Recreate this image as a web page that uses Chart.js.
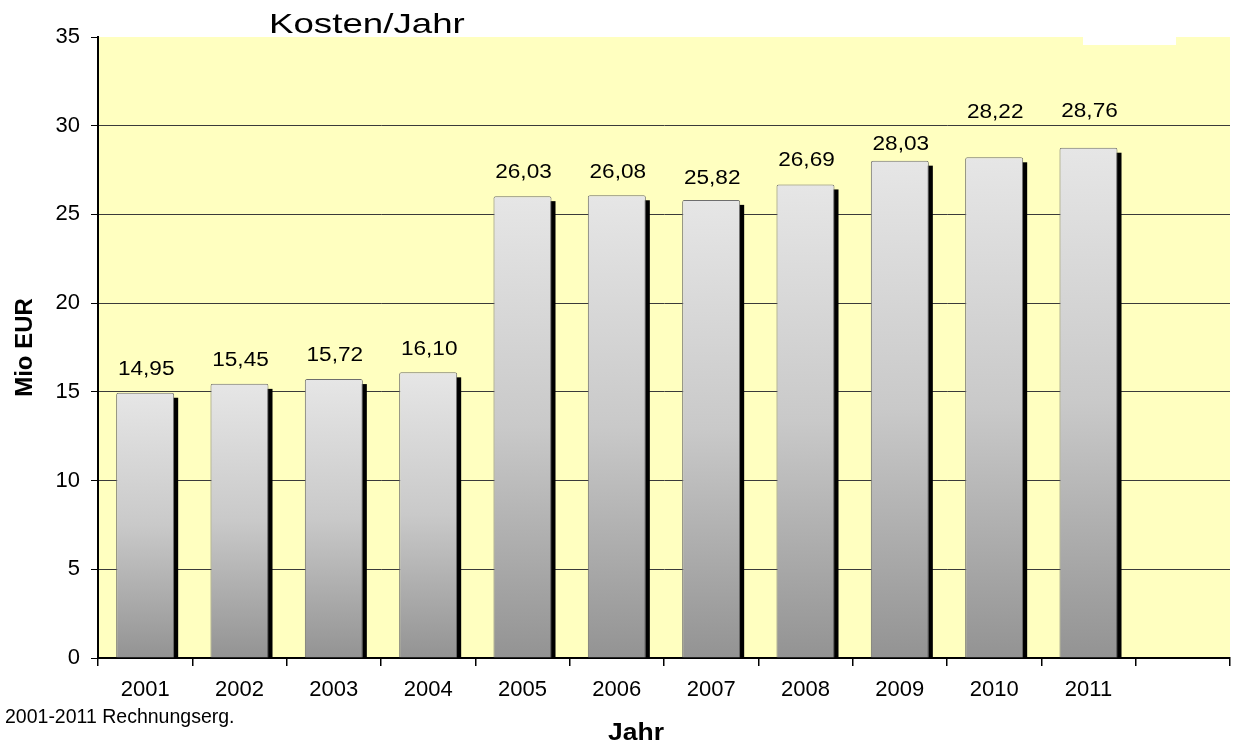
<!DOCTYPE html>
<html>
<head>
  <style>
    html, body { margin: 0; padding: 0; background: #ffffff; }
    #wrap { width: 1234px; height: 747px; }
  </style>
  <script src="https://cdn.jsdelivr.net/npm/chart.js"></script>
</head>
<body>
  <div id="wrap"><canvas id="myChart" width="1234" height="747"></canvas></div>
  <script>
    // Data
    const years = ['2001', '2002', '2003', '2004', '2005', '2006', '2007', '2008', '2009', '2010', '2011', ''];
    const costs = [14.95, 15.45, 15.72, 16.10, 26.03, 26.08, 25.82, 26.69, 28.03, 28.22, 28.76, null];
    const yTicks = [0, 5, 10, 15, 20, 25, 30, 35];

    const chartTitle = 'Kosten/Jahr';
    const xTitle = 'Jahr';
    const yTitle = 'Mio EUR';
    const footNote = '2001-2011 Rechnungserg.';

    const FONT = '"Liberation Sans", Arial, sans-serif';

    // the value labels were nudged by hand in the original; lift above bar top in px
    const labelLift = [23, 23, 24, 23, 24, 23, 21, 24, 16, 45, 36, 0];

    function fmt(v) {
      return v.toFixed(2).replace('.', ',');
    }

    // background, bar shadows, value labels and loose texts
    const decor = {
      id: 'decor',
      beforeDraw(chart) {
        const { ctx, chartArea: a } = chart;
        ctx.save();
        ctx.fillStyle = '#FFFFC0';
        ctx.fillRect(a.left, a.top, a.right - a.left, a.bottom - a.top);
        // white patch left over from the hidden legend
        ctx.fillStyle = '#ffffff';
        ctx.fillRect(1083, a.top, 93, 8);
        ctx.restore();
      },
      beforeDatasetsDraw(chart) {
        const { ctx } = chart;
        const meta = chart.getDatasetMeta(0);
        ctx.save();
        ctx.fillStyle = '#000000';
        meta.data.forEach((bar, i) => {
          if (costs[i] == null) return;
          const p = bar.getProps(['x', 'y', 'base', 'width'], true);
          ctx.fillRect(p.x - p.width / 2 + 4, p.y + 5, p.width, p.base - p.y - 5);
        });
        ctx.restore();
      },
      afterDatasetsDraw(chart) {
        const { ctx } = chart;
        const meta = chart.getDatasetMeta(0);
        ctx.save();
        ctx.fillStyle = '#000000';
        ctx.font = '20px ' + FONT;
        ctx.textAlign = 'center';
        ctx.textBaseline = 'middle';
        meta.data.forEach((bar, i) => {
          if (costs[i] == null) return;
          const p = bar.getProps(['x', 'y'], true);
          ctx.save();
          ctx.translate(p.x + 1, p.y - labelLift[i]);
          ctx.scale(1.13, 1);
          ctx.fillText(fmt(costs[i]), 0, 0);
          ctx.restore();
        });
        ctx.restore();
      },
      afterDraw(chart) {
        const { ctx } = chart;
        ctx.save();
        ctx.fillStyle = '#000000';
        ctx.textBaseline = 'alphabetic';

        // chart title (stretched like the original text box)
        ctx.save();
        ctx.font = '28px ' + FONT;
        ctx.translate(269, 33);
        ctx.scale(1.31, 1);
        ctx.textAlign = 'left';
        ctx.fillText(chartTitle, 0, 0);
        ctx.restore();

        // x axis title
        ctx.save();
        ctx.font = 'bold 23px ' + FONT;
        ctx.textAlign = 'center';
        ctx.translate(636, 740);
        ctx.scale(1.15, 1);
        ctx.fillText(xTitle, 0, 0);
        ctx.restore();

        // footnote
        ctx.font = '19.5px ' + FONT;
        ctx.textAlign = 'left';
        ctx.fillText(footNote, 5, 723);
        ctx.restore();
      }
    };

    const ctx = document.getElementById('myChart').getContext('2d');
    new Chart(ctx, {
      type: 'bar',
      data: {
        labels: years,
        datasets: [{
          data: costs,
          backgroundColor: function(c) {
            const chart = c.chart;
            if (!chart.chartArea || c.raw == null) return '#cccccc';
            const y = chart.scales.y;
            const g = chart.ctx.createLinearGradient(0, y.getPixelForValue(c.raw), 0, y.getPixelForValue(0));
            g.addColorStop(0, '#e6e6e6');
            g.addColorStop(0.5, '#c9c9c9');
            g.addColorStop(1, '#939393');
            return g;
          },
          borderColor: '#6e6e6e',
          borderWidth: 1,
          borderRadius: 2,
          borderSkipped: 'bottom',
          categoryPercentage: 1,
          barPercentage: 0.615
        }]
      },
      options: {
        responsive: false,
        animation: false,
        layout: { padding: { top: 37, right: 4, left: 0, bottom: 0 } },
        plugins: {
          legend: { display: false },
          title: { display: false },
          tooltip: { enabled: false }
        },
        scales: {
          x: {
            offset: true,
            border: { display: true, color: '#000000', width: 2 },
            grid: {
              offset: true,
              drawOnChartArea: false,
              drawTicks: true,
              tickLength: 8,
              tickColor: '#000000',
              lineWidth: 1.5
            },
            ticks: {
              color: '#000000',
              font: { family: FONT, size: 22 },
              padding: 11,
              maxRotation: 0,
              autoSkip: false
            },
            afterFit(scale) { scale.height = 89; }
          },
          y: {
            min: 0,
            max: 35,
            border: { display: true, color: '#000000', width: 2 },
            grid: {
              color: function(c) {
                return (c.tick && (c.tick.value === 0 || c.tick.value === 35)) ? 'rgba(0,0,0,0)' : '#3a3a3a';
              },
              lineWidth: 1,
              tickLength: 7,
              tickColor: '#000000'
            },
            afterBuildTicks(scale) {
              scale.ticks = yTicks.map(v => ({ value: v }));
            },
            ticks: {
              color: '#000000',
              font: { family: FONT, size: 22 },
              padding: 11
            },
            title: {
              display: true,
              text: yTitle,
              color: '#000000',
              font: { family: FONT, size: 24, weight: 'bold' },
              padding: { top: 11, bottom: 0 }
            },
            afterFit(scale) { scale.width = 98; }
          }
        }
      },
      plugins: [decor]
    });
  </script>
</body>
</html>
